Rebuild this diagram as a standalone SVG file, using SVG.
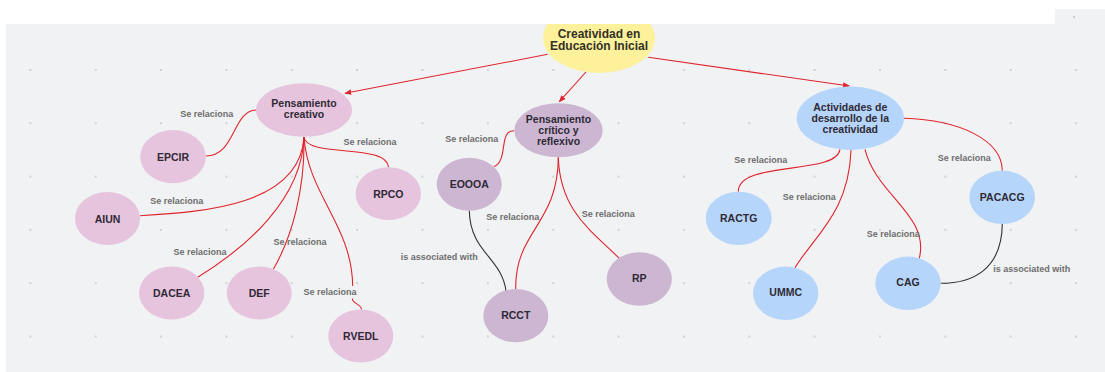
<svg xmlns="http://www.w3.org/2000/svg" width="1105" height="372" viewBox="0 0 1105 372">
<defs>
<style>
.n text{font-family:"Liberation Sans",Arial,sans-serif;font-weight:bold;font-size:10.5px;fill:#2f2a35;text-anchor:middle;dominant-baseline:central}
.n text.t{font-size:12px;fill:#333026}
.pink{fill:#e6c4dd}
.lil{fill:#ccb6d2}
.blue{fill:#b5d5fb}
.yel{fill:#fdf29b}
.e path{fill:none;stroke:#e0242c;stroke-width:1.1}
.e path.k{stroke:#333;}
.lbl{font-family:"Liberation Sans",Arial,sans-serif;font-weight:bold;font-size:9px;fill:#6e6e6e;text-anchor:middle;dominant-baseline:central}
.dot{fill:#b0b0b4}
</style>
<marker id="ah" viewBox="0 0 10 10" refX="9" refY="5" markerWidth="7" markerHeight="7" orient="auto" markerUnits="userSpaceOnUse">
<path d="M0,1 L10,5 L0,9 z" fill="#e0242c"/>
</marker>
<pattern id="grid" x="30.4" y="16.7" width="65.35" height="53.3" patternUnits="userSpaceOnUse">
<rect x="-0.7" y="-0.7" width="1.4" height="1.4" class="dot"/>
<rect x="64.65" y="-0.7" width="1.4" height="1.4" class="dot"/>
<rect x="-0.7" y="52.6" width="1.4" height="1.4" class="dot"/>
<rect x="64.65" y="52.6" width="1.4" height="1.4" class="dot"/>
</pattern>
</defs>
<rect width="1105" height="372" fill="#ffffff"/>
<rect x="6" y="24" width="1099" height="348" fill="#f1f2f4"/>
<rect x="1055" y="9" width="50" height="20" fill="#f1f2f4"/>
<rect x="6" y="24" width="1099" height="348" fill="url(#grid)"/>
<rect x="1073.3" y="16.3" width="1.4" height="1.4" class="dot"/>

<g id="connectors" class="e">
<path d="M547.7,54.3 L345,93.3" marker-end="url(#ah)"/>
<path d="M586,72 L559.3,101.7" marker-end="url(#ah)"/>
<path d="M648.3,57.3 L849.3,86" marker-end="url(#ah)"/>

<path d="M256.7,110 C232,110 236,156 205.7,156"/>
<path d="M304,137 C306,158 388,143 388.3,167.3"/>
<path d="M304,137 C300,205 205,212 140,215.7"/>
<path d="M304,137 C302,200 245,248 197.7,277.3"/>
<path d="M304,137 C305,190 292,237 273.3,269.3"/>
<path d="M304,137 C308,195 352,225 352.7,286"/>
<path d="M352.3,298.5 C352.5,304 360,303 361.7,309.3"/>

<path d="M514.3,130.7 C498,130 509,160 494,166.7"/>
<path d="M558.3,157.3 C558,225 515,230 515.7,289"/>
<path d="M558.3,157.3 C560,210 590,230 619.3,258.3"/>
<path class="k" d="M469.3,210.7 C470,252 502,258 506,291"/>

<path d="M840,149.3 C836,176 738,160 738.3,191.7"/>
<path d="M851,150 C849,212 815,235 795,267.7"/>
<path d="M865,149.3 C876,195 930,215 919.3,258.3"/>
<path d="M904,118.3 C960,120 1002,140 1002.3,170.7"/>
<path class="k" d="M1002.3,223.3 C1002,270 972,283.3 940.7,283.3"/>

<text class="lbl" x="206.7" y="114.3">Se relaciona</text>
<text class="lbl" x="370" y="142.3">Se relaciona</text>
<text class="lbl" x="176.7" y="201">Se relaciona</text>
<text class="lbl" x="200" y="252.3">Se relaciona</text>
<text class="lbl" x="300" y="242.3">Se relaciona</text>
<text class="lbl" x="330" y="291.7">Se relaciona</text>
<text class="lbl" x="471.7" y="138.7">Se relaciona</text>
<text class="lbl" x="512.7" y="216.7">Se relaciona</text>
<text class="lbl" x="608.3" y="213.7">Se relaciona</text>
<text class="lbl" x="439.3" y="257.3">is associated with</text>
<text class="lbl" x="760.7" y="160">Se relaciona</text>
<text class="lbl" x="809.3" y="197">Se relaciona</text>
<text class="lbl" x="893.3" y="233.7">Se relaciona</text>
<text class="lbl" x="964.3" y="158.3">Se relaciona</text>
<text class="lbl" x="1031.7" y="269.3">is associated with</text>
</g>

<g id="n-title" class="n">
<ellipse class="yel" cx="599" cy="38" rx="56" ry="35"/>
<rect x="530" y="0" width="140" height="24" fill="#ffffff"/>
<text class="t" x="599" y="34.3">Creatividad en</text>
<text class="t" x="599" y="46.3">Educación Inicial</text>
</g>

<g id="n-pc" class="n"><ellipse class="pink" cx="304" cy="110" rx="48" ry="26.7"/><text x="304" y="103">Pensamiento</text><text x="304" y="114">creativo</text></g>
<g id="n-epcir" class="n"><ellipse class="pink" cx="173" cy="156.7" rx="32.8" ry="26.6"/><text x="173" y="156.7">EPCIR</text></g>
<g id="n-rpco" class="n"><ellipse class="pink" cx="388.3" cy="193.7" rx="32.7" ry="26.4"/><text x="388.3" y="193.7">RPCO</text></g>
<g id="n-aiun" class="n"><ellipse class="pink" cx="107.5" cy="218.5" rx="32.5" ry="26.6"/><text x="107.5" y="218.5">AIUN</text></g>
<g id="n-dacea" class="n"><ellipse class="pink" cx="171.7" cy="293" rx="32.7" ry="26.4"/><text x="171.7" y="293">DACEA</text></g>
<g id="n-def" class="n"><ellipse class="pink" cx="259.2" cy="293" rx="32.5" ry="26.4"/><text x="259.2" y="293">DEF</text></g>
<g id="n-rvedl" class="n"><ellipse class="pink" cx="360.8" cy="336" rx="32.5" ry="26.6"/><text x="360.8" y="335.5">RVEDL</text></g>

<g id="n-pcr" class="n"><ellipse class="lil" cx="558.5" cy="130.3" rx="44.2" ry="27"/><text x="558.5" y="119">Pensamiento</text><text x="558.5" y="129.7">crítico y</text><text x="558.5" y="140.7">reflexivo</text></g>
<g id="n-eoooa" class="n"><ellipse class="lil" cx="469.2" cy="184.2" rx="32.5" ry="26.5"/><text x="469.2" y="183.5">EOOOA</text></g>
<g id="n-rcct" class="n"><ellipse class="lil" cx="515.8" cy="315.7" rx="32.5" ry="26.6"/><text x="515.8" y="314.5">RCCT</text></g>
<g id="n-rp" class="n"><ellipse class="lil" cx="639.3" cy="279" rx="32.6" ry="26.7"/><text x="639.3" y="277.5">RP</text></g>

<g id="n-adc" class="n"><ellipse class="blue" cx="850.3" cy="118.3" rx="53.7" ry="31.7"/><text x="850.3" y="106.7">Actividades de</text><text x="850.3" y="117.7">desarrollo de la</text><text x="850.3" y="128.5">creatividad</text></g>
<g id="n-pacacg" class="n"><ellipse class="blue" cx="1002.2" cy="197.3" rx="32.8" ry="26.7"/><text x="1002.2" y="196.5">PACACG</text></g>
<g id="n-ractg" class="n"><ellipse class="blue" cx="738.7" cy="218.3" rx="33" ry="26.6"/><text x="738.7" y="217.5">RACTG</text></g>
<g id="n-ummc" class="n"><ellipse class="blue" cx="785.7" cy="293.3" rx="32.7" ry="26.7"/><text x="785.7" y="292">UMMC</text></g>
<g id="n-cag" class="n"><ellipse class="blue" cx="908" cy="283.3" rx="32.7" ry="26.7"/><text x="908" y="281.5">CAG</text></g>
</svg>
